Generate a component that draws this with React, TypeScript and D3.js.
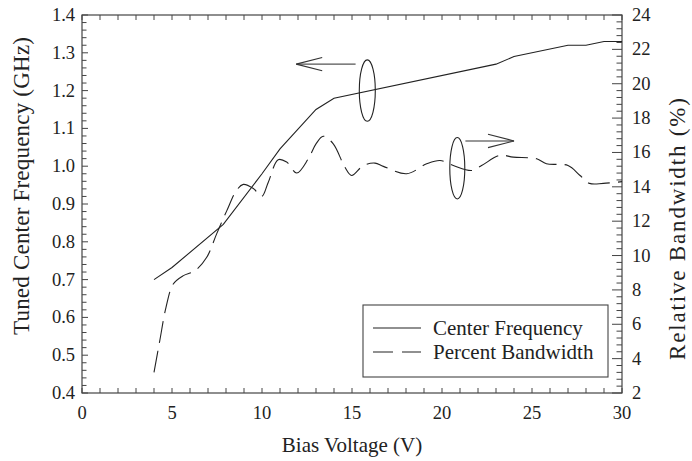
import React from "react";
import * as d3 from "d3";

const xTicks = [0, 5, 10, 15, 20, 25, 30];
const yLeftTicks = [0.4, 0.5, 0.6, 0.7, 0.8, 0.9, 1.0, 1.1, 1.2, 1.3, 1.4];
const yRightTicks = [2, 4, 6, 8, 10, 12, 14, 16, 18, 20, 22, 24];

const cfX = [4, 5, 7.85, 10, 11, 13, 14, 23, 24, 27, 28, 29, 30];
const cfY = [0.70, 0.732, 0.846, 0.98, 1.046, 1.15, 1.18, 1.27, 1.29, 1.32, 1.32, 1.33, 1.33];

const bwX = [4.0, 4.33, 4.67, 5.07, 5.63, 6.28, 6.93, 7.48, 8.04, 8.59, 8.96, 9.52, 9.98, 10.35, 10.9, 11.37, 11.93, 12.57, 13.0, 13.4, 13.96, 14.6, 14.98, 15.63, 16.28, 16.74, 18.04, 19.15, 19.89, 20.63, 21.65, 22.2, 23.22, 23.96, 25.26, 25.8, 27.0, 27.67, 28.2, 28.96, 30];
const bwY = [3.2, 5.1, 7.0, 8.34, 8.83, 9.12, 9.9, 11.26, 12.6, 13.8, 14.14, 13.9, 13.44, 14.27, 15.58, 15.44, 14.8, 15.63, 16.5, 16.94, 16.5, 15.15, 14.66, 15.24, 15.38, 15.19, 14.76, 15.34, 15.53, 15.24, 14.95, 15.24, 15.83, 15.73, 15.63, 15.34, 15.24, 14.66, 14.2, 14.2, 14.3];

const legendLabels = ["Center Frequency", "Percent Bandwidth"];

const W = 692, H = 461;
const M = { left: 82, right: 622, top: 15, bottom: 393 };
const INK = "#222";
const CSS = `.ser { font-family: "Liberation Serif" !important; fill: #222; }`;

export default function App() {
  const x = d3.scaleLinear().domain([0, 30]).range([M.left, M.right]);
  const yL = d3.scaleLinear().domain([0.4, 1.4]).range([M.bottom, M.top]);
  const yR = d3.scaleLinear().domain([2, 24]).range([M.bottom, M.top]);

  const cfLine = d3.line<number>().x((d, i) => x(cfX[i])).y((d) => yL(d));
  const bwLine = d3
    .line<number>()
    .x((d, i) => x(bwX[i]))
    .y((d) => yR(d))
    .curve(d3.curveCatmullRom.alpha(0.5));

  const xMinor = d3.range(0, 31, 1);
  const yLMinor = d3.range(0, 51).map((i) => 0.4 + i * 0.02);
  const yRMinor = d3.range(0, 56).map((i) => 2 + i * 0.4);

  const e1 = { x: x(15.85), y: yL(1.2) };
  const a1y = yL(1.27);
  const a1x0 = x(15.2), a1x1 = x(11.9);
  const e2 = { x: x(20.85), y: yR(15.08) };
  const a2y = yR(16.67);
  const a2x0 = x(21.3), a2x1 = x(24.0);

  return (
    <svg width={W} height={H} style={{ display: "block", position: "absolute", left: 0, top: 0 }} fontFamily="Liberation Serif">
      <style>{CSS}</style>
      <rect x={0} y={0} width={W} height={H} fill="#fff" />
      <rect x={M.left} y={M.top} width={M.right - M.left} height={M.bottom - M.top} fill="none" stroke="#444" strokeWidth={1.2} />
      {xMinor.map((v) => (
        <g key={"xt" + v}>
          <line x1={x(v)} x2={x(v)} y1={M.bottom} y2={M.bottom - 5} stroke="#444" />
          <line x1={x(v)} x2={x(v)} y1={M.top} y2={M.top + 5} stroke="#444" />
        </g>
      ))}
      {yLMinor.map((v, i) => (
        <line key={"yl" + i} x1={M.left} x2={M.left + (i % 5 === 0 ? 6 : 4.5)} y1={yL(v)} y2={yL(v)} stroke="#444" />
      ))}
      {yRMinor.map((v, i) => (
        <line key={"yr" + i} x1={M.right} x2={M.right - (i % 5 === 0 ? 10 : 5.5)} y1={yR(v)} y2={yR(v)} stroke="#444" />
      ))}
      {xTicks.map((v) => (
        <text key={"xl" + v} className="ser" x={x(v)} y={419} textAnchor="middle" fontSize={18.5}>
          {v}
        </text>
      ))}
      {yLeftTicks.map((v) => (
        <text key={"yll" + v} className="ser" x={75} y={yL(v) + 6} textAnchor="end" fontSize={18.5}>
          {v.toFixed(1)}
        </text>
      ))}
      {yRightTicks.map((v) => (
        <text key={"yrl" + v} className="ser" x={632} y={yR(v) + 6} textAnchor="start" fontSize={18.5}>
          {v}
        </text>
      ))}
      <text className="ser" x={352} y={452} textAnchor="middle" fontSize={21}>
        Bias Voltage (V)
      </text>
      <text className="ser" transform={`translate(29,186) rotate(-90)`} textAnchor="middle" fontSize={23} textLength={298} lengthAdjust="spacing">
        Tuned Center Frequency (GHz)
      </text>
      <text className="ser" transform={`translate(685,229) rotate(-90)`} textAnchor="middle" fontSize={23} textLength={262} lengthAdjust="spacing">
        Relative Bandwidth (%)
      </text>
      <path d={cfLine(cfY) || ""} fill="none" stroke={INK} strokeWidth={1.1} />
      <path d={bwLine(bwY) || ""} fill="none" stroke={INK} strokeWidth={1.1} strokeDasharray="22,8" />
      <ellipse cx={e1.x} cy={e1.y} rx={8} ry={30.7} fill="none" stroke={INK} strokeWidth={1.1} />
      <line x1={a1x0} x2={a1x1} y1={a1y} y2={a1y} stroke="#555" strokeWidth={1.2} />
      <polyline points={`${a1x1 + 26},${a1y - 6.7} ${a1x1},${a1y} ${a1x1 + 26},${a1y + 6.7}`} fill="none" stroke="#333" strokeWidth={1.1} />
      <ellipse cx={e2.x} cy={e2.y} rx={7.5} ry={30.7} fill="none" stroke={INK} strokeWidth={1.1} />
      <line x1={a2x0} x2={a2x1} y1={a2y} y2={a2y} stroke="#333" strokeWidth={1.1} />
      <polyline points={`${a2x1 - 26},${a2y - 6.7} ${a2x1},${a2y} ${a2x1 - 26},${a2y + 6.7}`} fill="none" stroke="#333" strokeWidth={1.1} />
      <rect x={363} y={305} width={245} height={72} fill="#fff" stroke="#444" strokeWidth={1.1} />
      <line x1={373} x2={421} y1={328} y2={328} stroke={INK} strokeWidth={1.1} />
      <line x1={373} x2={421} y1={352} y2={352} stroke={INK} strokeWidth={1.1} strokeDasharray="20,9" />
      <text className="ser" x={433} y={335} fontSize={21}>
        {legendLabels[0]}
      </text>
      <text className="ser" x={433} y={359} fontSize={21}>
        {legendLabels[1]}
      </text>
    </svg>
  );
}
